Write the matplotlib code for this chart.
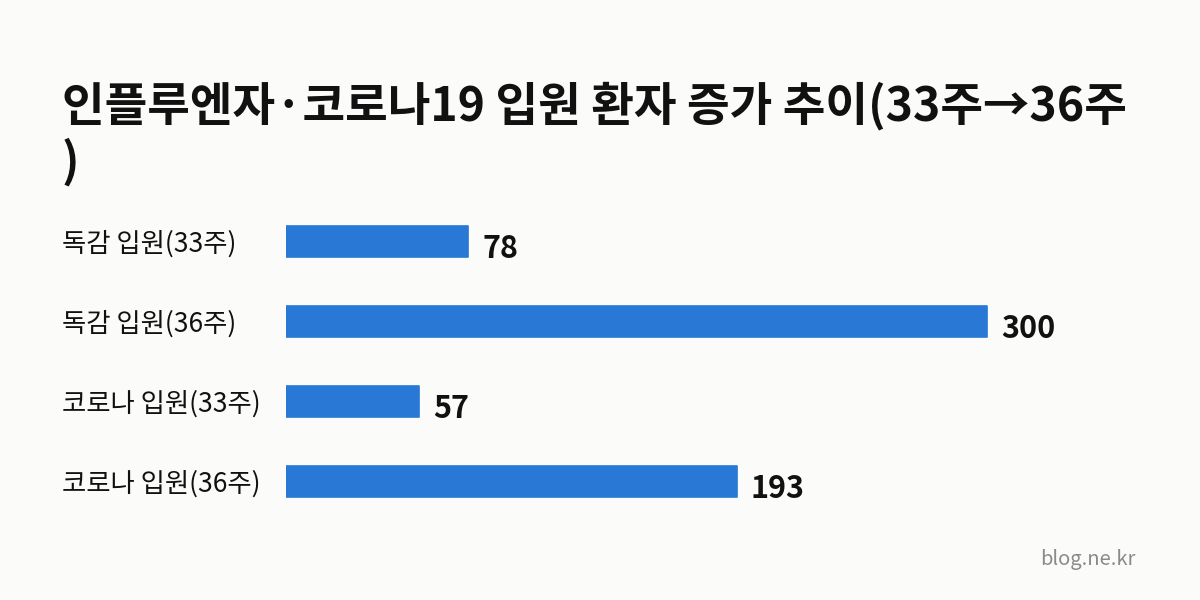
import matplotlib

matplotlib.use("Agg")
import matplotlib.pyplot as plt
from matplotlib.transforms import blended_transform_factory, offset_copy

plt.rcParams["font.family"] = ["Noto Sans CJK KR", "DejaVu Sans"]

BG, BLUE, INK, GREY = "#fbfbf9", "#2a78d6", "#111111", "#8a8a8a"
W, H = 1200, 600

categories = ["독감 입원(33주)", "독감 입원(36주)", "코로나 입원(33주)", "코로나 입원(36주)"]
values = [78, 300, 57, 193]
title_l1 = "인플루엔자·코로나19 입원 환자 증가 추이(33주→36주"
title_l2 = ")"
source = "blog.ne.kr"

fig = plt.figure(figsize=(W / 100, H / 100), dpi=100, facecolor=BG)
# axes in pixel terms: bars start at x=286, 300 ends at x=987, rows every 80px
left, right, top, bottom = 286, 1140, 201.5, 521.5
ax = fig.add_axes([left / W, 1 - bottom / H, (right - left) / W, (bottom - top) / H])
ax.set_facecolor(BG)
xmax = 300 * (right - left) / (987 - left)
ax.set_xlim(0, xmax)
ax.set_ylim(len(values) - 0.5, -0.5)

ypos = list(range(len(values)))
ax.barh(ypos, values, height=0.39, color=BLUE, edgecolor=BLUE, linewidth=1.2,
        joinstyle="round")
for y, v in zip(ypos, values):
    ax.annotate(f"{v}", (v, y), xytext=(10, -5.5), textcoords="offset points",
                ha="left", va="center", fontsize=22, fontweight="bold", color=INK)

tr = blended_transform_factory(fig.transFigure, ax.transData)
tr = offset_copy(tr, fig=fig, y=-1.5, units="points")
for y, c in zip(ypos, categories):
    ax.text(62 / W, y, c, transform=tr, ha="left", va="center", fontsize=19, color=INK)

ax.axis("off")

fig.text(62 / W, 1 - 121 / H, title_l1, ha="left", va="baseline", fontsize=33.4,
         fontweight="bold", color=INK)
fig.text(62 / W, 1 - 177 / H, title_l2, ha="left", va="baseline", fontsize=33.4,
         fontweight="bold", color=INK)
fig.text(1136 / W, 1 - 565 / H, source, ha="right", va="baseline", fontsize=14.5, color=GREY)

fig.savefig("out.png", dpi=100, facecolor=BG)
